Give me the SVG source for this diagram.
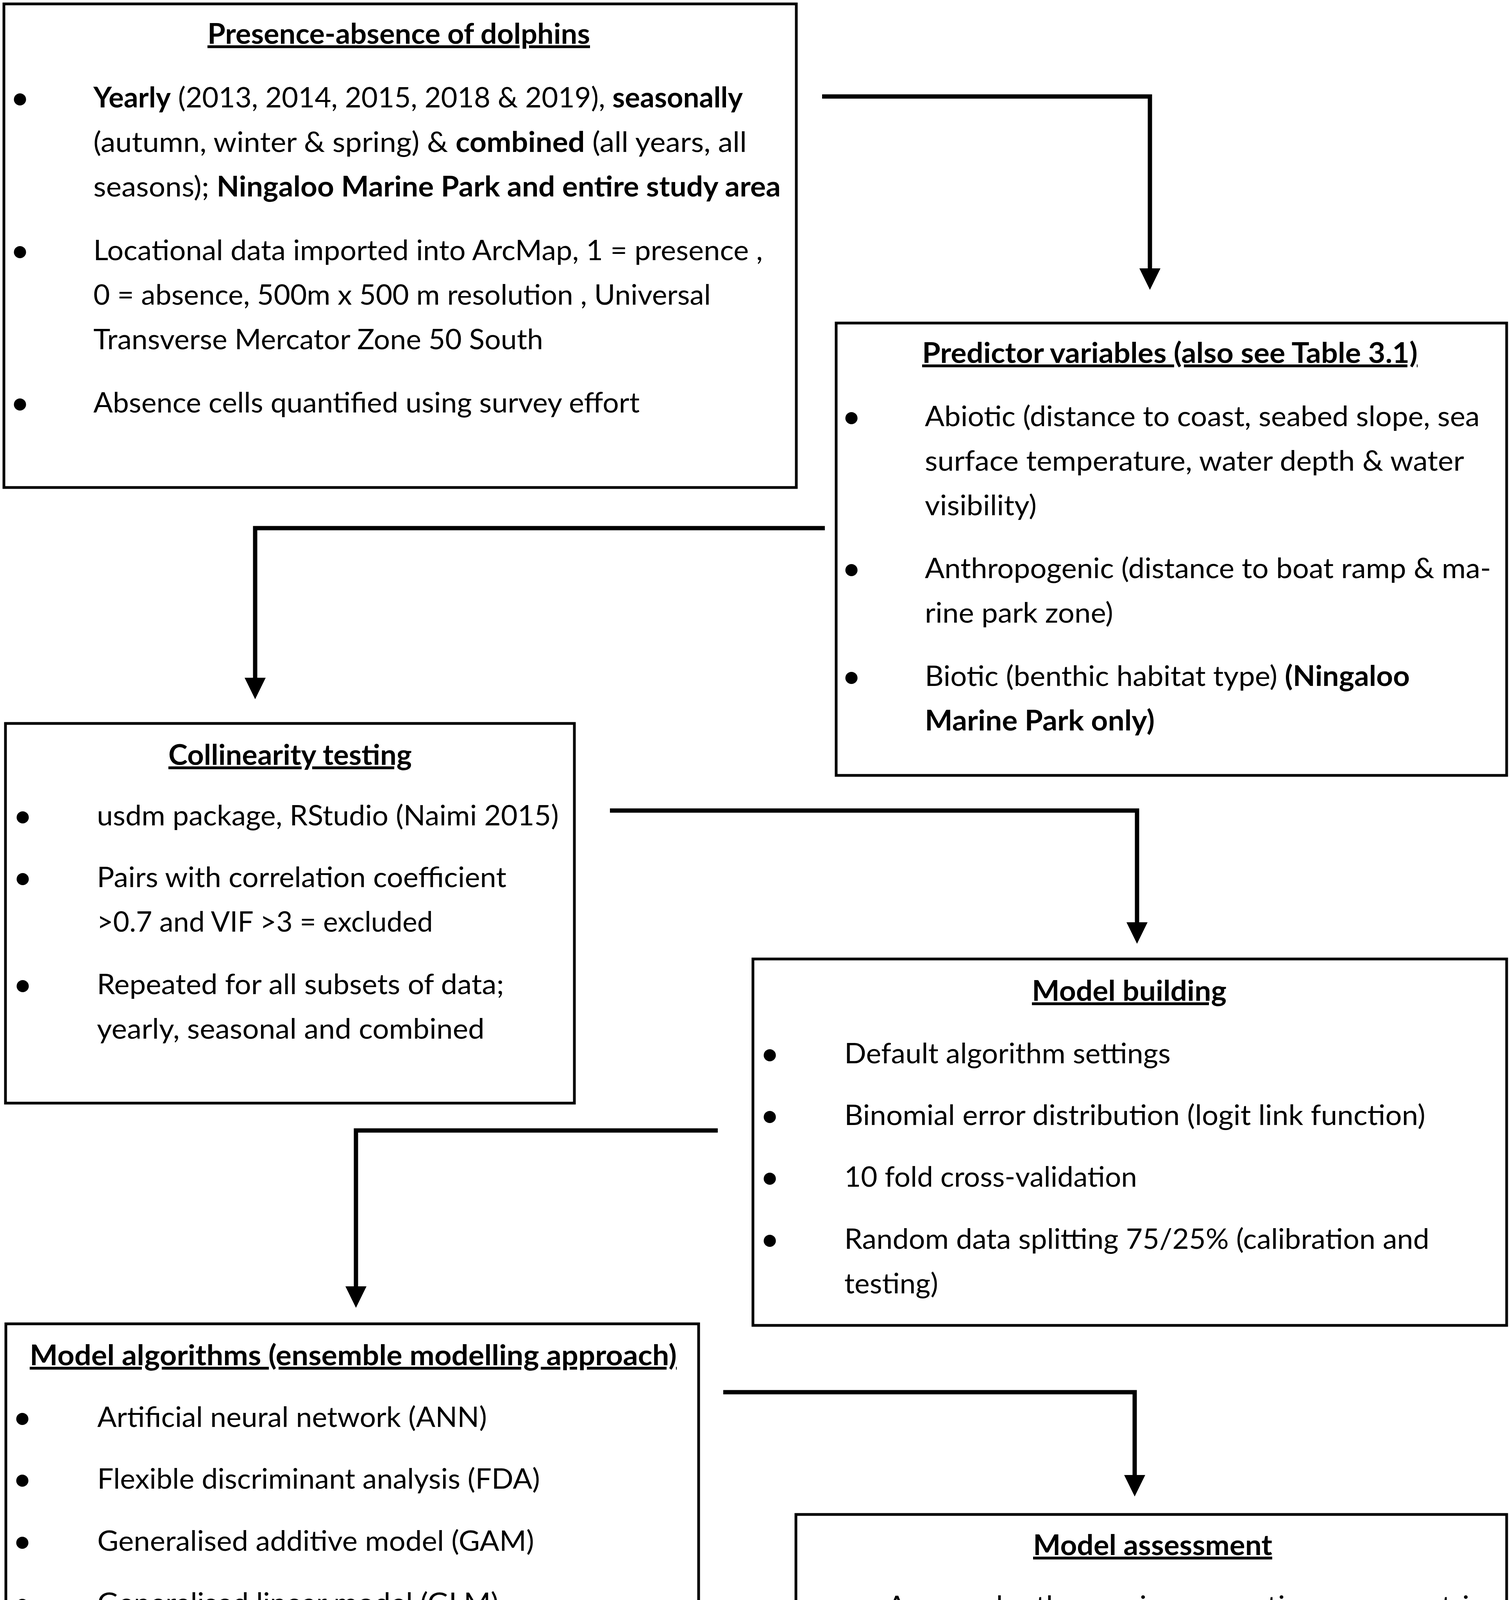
<svg xmlns="http://www.w3.org/2000/svg" width="3862" height="5779" viewBox="0 0 3862 5779">
<style>
.t{font-family:Lato,"Liberation Sans",sans-serif;font-size:72px;fill:#000}
.b{font-weight:bold}
.h{font-weight:bold;text-decoration:underline}
.bu{font-family:Lato,"Liberation Sans",sans-serif;font-size:84px;text-anchor:middle;fill:#000}
.box{fill:#fff;stroke:#000;stroke-width:7}
.c{fill:none;stroke:#000;stroke-width:11;marker-end:url(#ah)}
</style>
<defs>
<marker id="ah" markerUnits="userSpaceOnUse" viewBox="0 0 56 54" markerWidth="56" markerHeight="54" refX="1" refY="27" orient="auto">
<path d="M0,0 L55,27 L0,54 Z" fill="#000"/>
</marker>
</defs>
<rect width="3862" height="5779" fill="#fff"/>

<g id="connectors">
<path class="c" d="M2104,247 H2943 V688"/>
<path class="c" d="M2111,1352 H653 V1736"/>
<path class="c" d="M1561,2075 H2910 V2362"/>
<path class="c" d="M1837,2894 H911 V3294"/>
<path class="c" d="M1851,3564 H2904 V3777"/>
<path class="c" d="M1950,4680 L1714,4829"/>
<path class="c" d="M1738,5335 H1872"/>
</g>

<g id="presence-absence">
<rect class="box" x="10" y="10" width="2028" height="1238"/>
<text class="t h" x="531" y="112" textLength="979" lengthAdjust="spacingAndGlyphs">Presence-absence of dolphins</text>
<text class="bu" x="51" y="279">•</text>
<text class="t" x="239" y="275" textLength="1662" lengthAdjust="spacingAndGlyphs"><tspan class="b">Yearly</tspan> (2013, 2014, 2015, 2018 &amp; 2019), <tspan class="b">seasonally</tspan></text>
<text class="t" x="239" y="389" textLength="1672" lengthAdjust="spacingAndGlyphs">(autumn, winter &amp; spring) &amp; <tspan class="b">combined</tspan> (all years, all</text>
<text class="t" x="239" y="503" textLength="1759" lengthAdjust="spacingAndGlyphs">seasons); <tspan class="b">Ningaloo Marine Park and entire study area</tspan></text>
<text class="bu" x="51" y="670">•</text>
<text class="t" x="239" y="666" textLength="1713" lengthAdjust="spacingAndGlyphs">Locational data imported into ArcMap, 1 = presence ,</text>
<text class="t" x="239" y="780" textLength="1580" lengthAdjust="spacingAndGlyphs">0 = absence, 500m x 500 m resolution , Universal</text>
<text class="t" x="239" y="894" textLength="1151" lengthAdjust="spacingAndGlyphs">Transverse Mercator Zone 50 South</text>
<text class="bu" x="51" y="1060">•</text>
<text class="t" x="239" y="1056" textLength="1398" lengthAdjust="spacingAndGlyphs">Absence cells quantified using survey effort</text>
</g>

<g id="predictor-variables">
<rect class="box" x="2140" y="827" width="1716" height="1158"/>
<text class="t h" x="2360" y="929" textLength="1268" lengthAdjust="spacingAndGlyphs">Predictor variables (also see Table 3.1)</text>
<text class="bu" x="2179" y="1095">•</text>
<text class="t" x="2367" y="1091" textLength="1420" lengthAdjust="spacingAndGlyphs">Abiotic (distance to coast, seabed slope, sea</text>
<text class="t" x="2367" y="1205" textLength="1380" lengthAdjust="spacingAndGlyphs">surface temperature, water depth &amp; water</text>
<text class="t" x="2367" y="1319" textLength="286" lengthAdjust="spacingAndGlyphs">visibility)</text>
<text class="bu" x="2179" y="1484">•</text>
<text class="t" x="2367" y="1480" textLength="1449" lengthAdjust="spacingAndGlyphs">Anthropogenic (distance to boat ramp &amp; ma-</text>
<text class="t" x="2367" y="1594" textLength="482" lengthAdjust="spacingAndGlyphs">rine park zone)</text>
<text class="bu" x="2179" y="1760">•</text>
<text class="t" x="2367" y="1756" textLength="1241" lengthAdjust="spacingAndGlyphs">Biotic (benthic habitat type) <tspan class="b">(Ningaloo</tspan></text>
<text class="t b" x="2367" y="1870" textLength="588" lengthAdjust="spacingAndGlyphs">Marine Park only)</text>
</g>

<g id="collinearity-testing">
<rect class="box" x="14" y="1852" width="1456" height="972"/>
<text class="t h" x="431" y="1958" textLength="623" lengthAdjust="spacingAndGlyphs">Collinearity testing</text>
<text class="bu" x="58" y="2117">•</text>
<text class="t" x="248" y="2113" textLength="1182" lengthAdjust="spacingAndGlyphs">usdm package, RStudio (Naimi 2015)</text>
<text class="bu" x="58" y="2275">•</text>
<text class="t" x="248" y="2271" textLength="1048" lengthAdjust="spacingAndGlyphs">Pairs with correlation coefficient</text>
<text class="t" x="248" y="2385" textLength="860" lengthAdjust="spacingAndGlyphs">&gt;0.7 and VIF &gt;3 = excluded</text>
<text class="bu" x="58" y="2549">•</text>
<text class="t" x="248" y="2545" textLength="1042" lengthAdjust="spacingAndGlyphs">Repeated for all subsets of data;</text>
<text class="t" x="248" y="2659" textLength="992" lengthAdjust="spacingAndGlyphs">yearly, seasonal and combined</text>
</g>

<g id="model-building">
<rect class="box" x="1927" y="2455" width="1929" height="938"/>
<text class="t h" x="2641" y="2562" textLength="498" lengthAdjust="spacingAndGlyphs">Model building</text>
<text class="bu" x="1970" y="2726">•</text>
<text class="t" x="2161" y="2722" textLength="835" lengthAdjust="spacingAndGlyphs">Default algorithm settings</text>
<text class="bu" x="1970" y="2884">•</text>
<text class="t" x="2161" y="2880" textLength="1487" lengthAdjust="spacingAndGlyphs">Binomial error distribution (logit link function)</text>
<text class="bu" x="1970" y="3042">•</text>
<text class="t" x="2161" y="3038" textLength="749" lengthAdjust="spacingAndGlyphs">10 fold cross-validation</text>
<text class="bu" x="1970" y="3201">•</text>
<text class="t" x="2161" y="3197" textLength="1497" lengthAdjust="spacingAndGlyphs">Random data splitting 75/25% (calibration and</text>
<text class="t" x="2161" y="3311" textLength="240" lengthAdjust="spacingAndGlyphs">testing)</text>
</g>

<g id="model-algorithms">
<rect class="box" x="15" y="3389" width="1773" height="1233"/>
<text class="t h" x="76" y="3495" textLength="1656" lengthAdjust="spacingAndGlyphs">Model algorithms (ensemble modelling approach)</text>
<text class="bu" x="57" y="3657">•</text>
<text class="t" x="249" y="3653" textLength="997" lengthAdjust="spacingAndGlyphs">Artificial neural network (ANN)</text>
<text class="bu" x="57" y="3815">•</text>
<text class="t" x="249" y="3811" textLength="1133" lengthAdjust="spacingAndGlyphs">Flexible discriminant analysis (FDA)</text>
<text class="bu" x="57" y="3974">•</text>
<text class="t" x="249" y="3970" textLength="1118" lengthAdjust="spacingAndGlyphs">Generalised additive model (GAM)</text>
<text class="bu" x="57" y="4133">•</text>
<text class="t" x="249" y="4129" textLength="1027" lengthAdjust="spacingAndGlyphs">Generalised linear model (GLM)</text>
<text class="bu" x="57" y="4292">•</text>
<text class="t" x="249" y="4288" textLength="1289" lengthAdjust="spacingAndGlyphs">Multivariate adaptive regression splines</text>
<text class="t" x="249" y="4403" textLength="245" lengthAdjust="spacingAndGlyphs">(MARS)</text>
<text class="bu" x="57" y="4568">•</text>
<text class="t" x="249" y="4564" textLength="622" lengthAdjust="spacingAndGlyphs">Random forest (RF)</text>
</g>

<g id="model-assessment">
<rect class="box" x="2037" y="3877" width="1819" height="885"/>
<text class="t h" x="2644" y="3981" textLength="612" lengthAdjust="spacingAndGlyphs">Model assessment</text>
<text class="bu" x="2079" y="4141">•</text>
<text class="t" x="2270" y="4137" textLength="1526" lengthAdjust="spacingAndGlyphs">Area under the receiver operating curve metric</text>
<text class="t" x="2270" y="4250" textLength="185" lengthAdjust="spacingAndGlyphs">(AUC)</text>
<text class="bu" x="2079" y="4416">•</text>
<text class="t" x="2270" y="4412" textLength="1465" lengthAdjust="spacingAndGlyphs">AUC &lt;0.7 = poor performance, 0.7-0.9 = good</text>
<text class="t" x="2270" y="4527" textLength="1454" lengthAdjust="spacingAndGlyphs">performance &amp; &gt;0.9 = excellent performance</text>
</g>

<g id="model-estimates">
<rect class="box" x="14" y="4904" width="1674" height="862"/>
<text class="t h" x="300" y="5006" textLength="1102" lengthAdjust="spacingAndGlyphs">Model estimates and variables of</text>
<text class="t h" x="660" y="5166" textLength="383" lengthAdjust="spacingAndGlyphs">importance</text>
<text class="bu" x="58" y="5326">•</text>
<text class="t" x="250" y="5322" textLength="1275" lengthAdjust="spacingAndGlyphs">10 permutation runs for each algorithm</text>
<text class="bu" x="58" y="5486">•</text>
<text class="t" x="250" y="5482" textLength="1252" lengthAdjust="spacingAndGlyphs">Prediction variables ranked from 0 to 1</text>
<text class="t" x="250" y="5596" textLength="1120" lengthAdjust="spacingAndGlyphs">(average of runs = mean of means)</text>
</g>

<g id="outcome">
<path class="box" d="M1962,4895 L3856,4895 L3856,5602 L3614,5605 C3300,5630 2800,5775 2404,5775 C2250,5775 2100,5760 1962,5717 Z"/>
<text class="t b" x="2058" y="5086" textLength="1645" lengthAdjust="spacingAndGlyphs" style="white-space:pre">Identified Indo-Pacific bottlenose dolphin  habitat</text>
<text class="t b" x="2058" y="5201" textLength="1555" lengthAdjust="spacingAndGlyphs">preferences and distribution at the North West</text>
<text class="t b" x="2058" y="5316" textLength="1508" lengthAdjust="spacingAndGlyphs">Cape for each survey year, austral season and</text>
<text class="t b" x="2058" y="5431" textLength="1642" lengthAdjust="spacingAndGlyphs">combining all data (Ningaloo Marine Park and en-</text>
<text class="t b" x="2058" y="5546" textLength="504" lengthAdjust="spacingAndGlyphs">tire study area)</text>
</g>
</svg>
